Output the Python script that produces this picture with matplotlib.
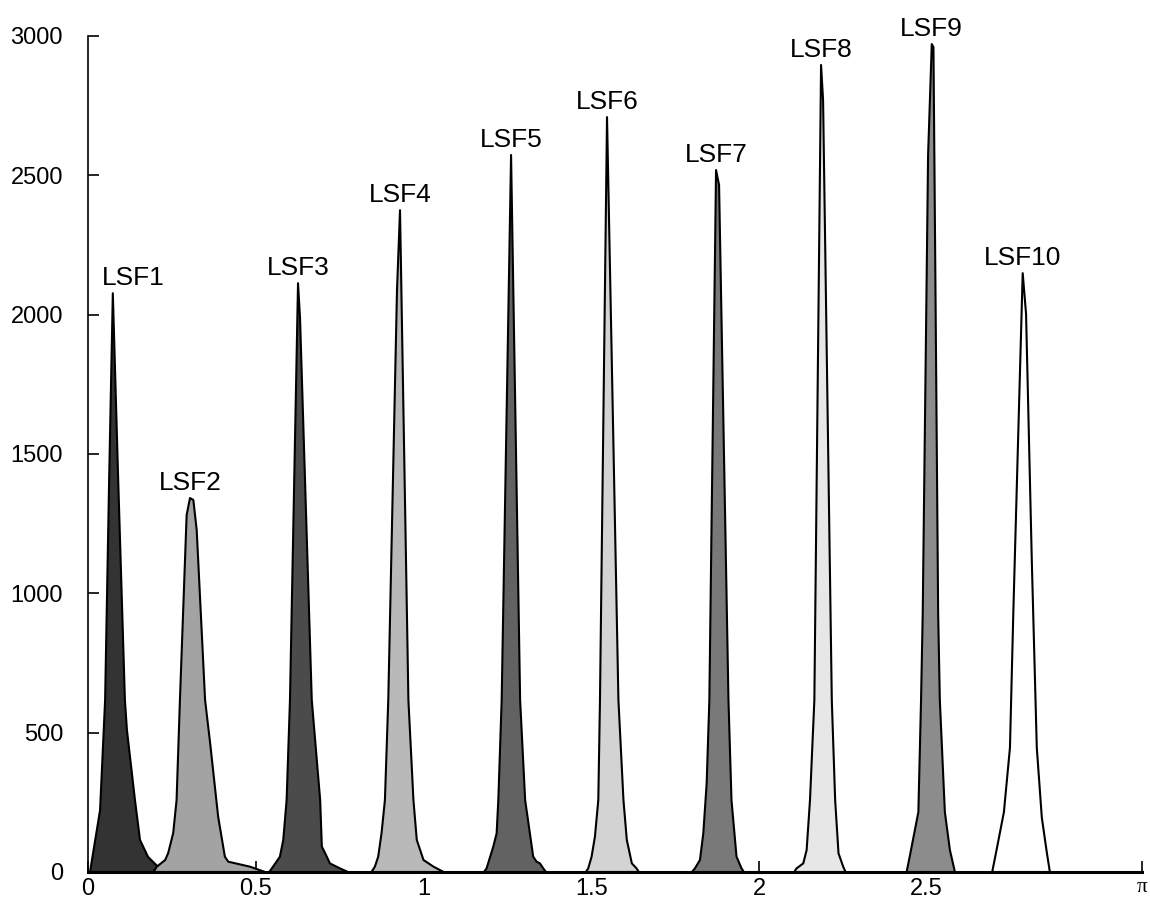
import numpy as np
import matplotlib
matplotlib.use("Agg")
import matplotlib.pyplot as plt

# peak outlines (x in rad, y in counts)
LSF1_X = [0.006, 0.036, 0.051, 0.063, 0.074, 0.090, 0.110, 0.116, 0.140, 0.155, 0.179, 0.206, 0.244]
LSF1_Y = [0, 222, 617, 1407, 2077, 1407, 617, 510, 258, 115, 54, 22, 0]
LSF2_X = [0.195, 0.205, 0.230, 0.239, 0.254, 0.264, 0.274, 0.294, 0.304, 0.314, 0.324, 0.349, 0.364,
          0.388, 0.408, 0.418, 0.483, 0.528]
LSF2_Y = [0, 19, 43, 68, 140, 258, 617, 1281, 1342, 1335, 1227, 617, 463, 198, 55, 37, 19, 0]
LSF3_X = [0.540, 0.548, 0.572, 0.582, 0.592, 0.602, 0.626, 0.632, 0.667, 0.692, 0.697, 0.707, 0.721,
          0.751, 0.775]
LSF3_Y = [0, 13, 55, 115, 258, 617, 2113, 1988, 617, 258, 91, 67, 31, 13, 0]
LSF4_X = [0.845, 0.855, 0.865, 0.875, 0.885, 0.895, 0.921, 0.930, 0.955, 0.970, 0.980, 1.000, 1.030,
          1.049, 1.060]
LSF4_Y = [0, 19, 55, 140, 258, 617, 2088, 2375, 617, 258, 115, 43, 19, 7, 0]
LSF5_X = [1.180, 1.188, 1.208, 1.218, 1.223, 1.233, 1.261, 1.288, 1.303, 1.327, 1.337, 1.347, 1.357, 1.365]
LSF5_Y = [0, 13, 91, 139, 258, 617, 2573, 617, 258, 55, 37, 31, 13, 0]
LSF6_X = [1.484, 1.491, 1.501, 1.511, 1.521, 1.526, 1.547, 1.581, 1.596, 1.606, 1.621, 1.635, 1.642]
LSF6_Y = [0, 13, 55, 127, 258, 617, 2709, 617, 258, 115, 31, 13, 0]
LSF7_X = [1.800, 1.809, 1.824, 1.834, 1.844, 1.852, 1.872, 1.881, 1.909, 1.918, 1.933, 1.948, 1.955]
LSF7_Y = [0, 13, 43, 139, 318, 617, 2519, 2465, 617, 258, 55, 13, 0]
LSF8_X = [2.105, 2.112, 2.132, 2.142, 2.152, 2.165, 2.185, 2.191, 2.217, 2.227, 2.237, 2.251, 2.258]
LSF8_Y = [0, 13, 31, 79, 258, 617, 2896, 2770, 617, 258, 67, 19, 0]
LSF9_X = [2.440, 2.450, 2.475, 2.483, 2.488, 2.504, 2.515, 2.520, 2.534, 2.539, 2.554, 2.569, 2.584]
LSF9_Y = [0, 60, 215, 617, 929, 2573, 2971, 2960, 929, 617, 215, 79, 0]
LSF10_X = [2.695, 2.705, 2.730, 2.748, 2.758, 2.786, 2.796, 2.813, 2.828, 2.843, 2.858, 2.867]
LSF10_Y = [0, 60, 215, 446, 929, 2149, 2003, 1123, 446, 195, 69, 0]

NAMES = ["LSF1", "LSF2", "LSF3", "LSF4", "LSF5", "LSF6", "LSF7", "LSF8", "LSF9", "LSF10"]
FILLS = ["#333333", "#a3a3a3", "#4b4b4b", "#b9b9b9", "#626262",
         "#d3d3d3", "#797979", "#e7e7e7", "#8c8c8c", "#ffffff"]
XTICKS = [0, 0.5, 1, 1.5, 2, 2.5, np.pi]
XTICKLABELS = ["0", "0.5", "1", "1.5", "2", "2.5", "π"]
YTICKS = [0, 500, 1000, 1500, 2000, 2500, 3000]

peaks = [(LSF1_X, LSF1_Y), (LSF2_X, LSF2_Y), (LSF3_X, LSF3_Y), (LSF4_X, LSF4_Y), (LSF5_X, LSF5_Y),
         (LSF6_X, LSF6_Y), (LSF7_X, LSF7_Y), (LSF8_X, LSF8_Y), (LSF9_X, LSF9_Y), (LSF10_X, LSF10_Y)]

plt.rcParams["font.family"] = ["Liberation Sans", "DejaVu Sans"]

fig = plt.figure(figsize=(11.5, 9.06), dpi=100)
ax = fig.add_axes([88 / 1150, 34 / 906, (1142 - 88) / 1150, (872 - 36) / 906])

for (px, py), name, fc in zip(peaks, NAMES, FILLS):
    ax.fill(px, py, facecolor=fc, edgecolor="black", linewidth=1.5, joinstyle="round", zorder=2)
    i = int(np.argmax(py))
    dx = 20 if name == "LSF1" else 0
    ax.annotate(name, (px[i], py[i]), xytext=(dx, 3), textcoords="offset pixels",
                ha="center", va="bottom", fontsize=19)

ax.set_xlim(0, np.pi)
ax.set_ylim(0, 3000)
ax.set_xticks(XTICKS)
ax.set_xticklabels(XTICKLABELS)
ax.set_yticks(YTICKS)
ax.tick_params(axis="both", direction="in", length=8, width=1.2, labelsize=17, colors="black")
ax.tick_params(axis="y", pad=18)
ax.tick_params(axis="x", pad=4)
ax.get_xticklabels()[-1].set_fontfamily("Liberation Serif")
ax.get_xticklabels()[-1].set_fontsize(15)

ax.spines[["top", "right"]].set_visible(False)
ax.spines["left"].set_linewidth(1.2)
ax.spines["bottom"].set_linewidth(2.2)
ax.spines["bottom"].set_zorder(3)

fig.savefig("out.png", dpi=100)
